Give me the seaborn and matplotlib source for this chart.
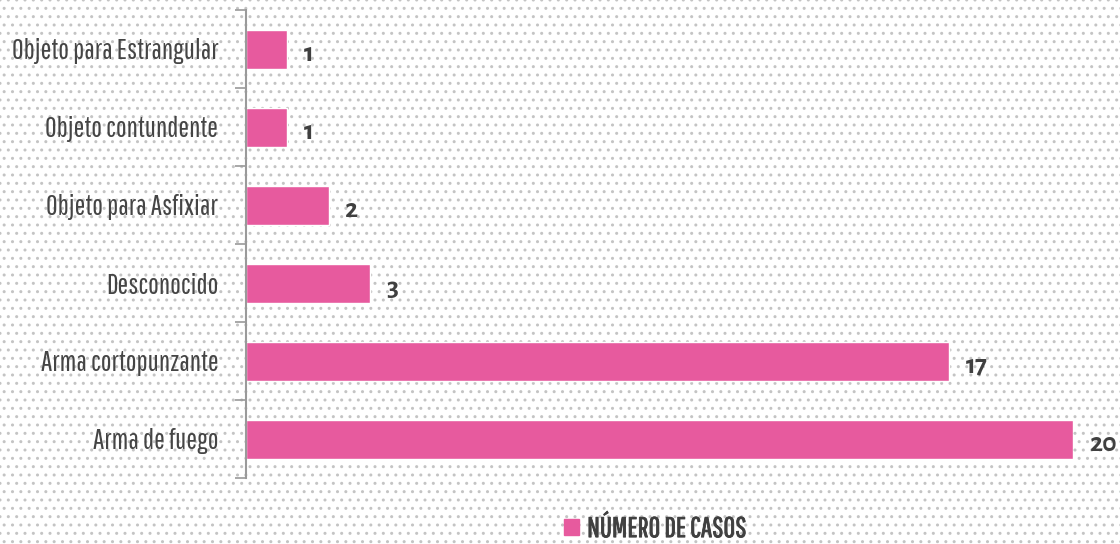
import matplotlib
matplotlib.use("Agg")
import matplotlib.pyplot as plt
import matplotlib.patches as mpatches
import matplotlib.patheffects as pe
import seaborn as sns
import pandas as pd

categories = ["Objeto para Estrangular", "Objeto contundente", "Objeto para Asfixiar",
              "Desconocido", "Arma cortopunzante", "Arma de fuego"]
values = [1, 1, 2, 3, 17, 20]
series_name = "NÚMERO DE CASOS"

bar_color = "#E75A9E"
text_color = "#404040"
axis_color = "#9a9a9a"

sns.set_theme(style="white")
label_font = ['Pathway Gothic One', 'Saira ExtraCondensed', 'DejaVu Sans']
num_font = ['Alegreya Sans', 'DejaVu Sans']
plt.rcParams['font.family'] = label_font

fig = plt.figure(figsize=(11.2, 5.44), dpi=100)
bg = mpatches.Rectangle((0, 0), 1, 1, transform=fig.transFigure, facecolor="white",
                        edgecolor="#c4c4c4", hatch="..", linewidth=0, zorder=-10)
fig.patches.append(bg)
fig.patch.set_alpha(0)

ax = fig.add_axes([246/1120, 1-478/544, (1073-246)/1120, 468/544])
ax.patch.set_alpha(0)

df = pd.DataFrame({"cat": categories, "val": values})
sns.barplot(data=df, y="cat", x="val", orient="h", color=bar_color, width=0.5,
            saturation=1, ax=ax)
ax.set_xlim(0, 20)
ax.set_ylim(5.5, -0.5)
ax.set_xlabel("")
ax.set_ylabel("")
ax.set_xticks([])
for s in ["top", "right", "bottom"]:
    ax.spines[s].set_visible(False)
ax.spines["left"].set_color(axis_color)
ax.spines["left"].set_linewidth(1.5)

ax.set_yticks([i - 0.5 for i in range(len(categories) + 1)], minor=False)
ax.set_yticklabels([])
ax.tick_params(axis="y", which="major", length=8, width=1.2, color=axis_color, direction="out", left=True)
ax.set_yticks(range(len(categories)), minor=True)
ax.set_yticklabels(categories, minor=True, fontsize=20.5, color="#454545")
ax.tick_params(axis="y", which="minor", length=0, pad=20)

for i, v in enumerate(values):
    ax.text(v + 0.4, i + 0.15, str(v), va="baseline", ha="left", fontsize=20,
            fontweight="bold", color=text_color, family=num_font, clip_on=False)

handle = mpatches.Patch(color=bar_color, label=series_name)
leg = fig.legend(handles=[handle], loc="center", bbox_to_anchor=(655/1120, 1-529/544),
                 frameon=False, fontsize=20.5, labelcolor=text_color, handlelength=0.52,
                 handleheight=0.52, handletextpad=0.3)
for t in leg.get_texts():
    t.set_path_effects([pe.withStroke(linewidth=0.6, foreground=text_color)])

fig.savefig("out.png", dpi=100)
